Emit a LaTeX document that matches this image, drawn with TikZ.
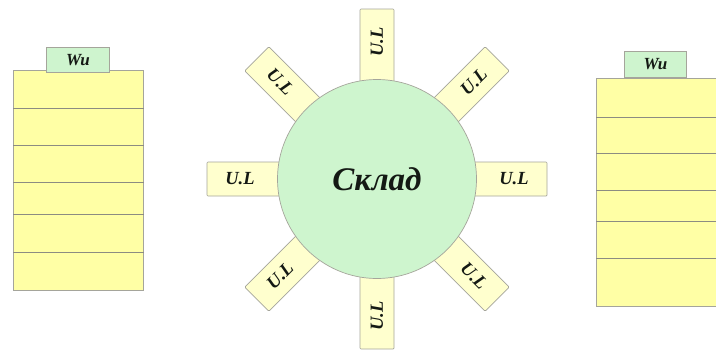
\documentclass[tikz,border=0pt]{standalone}
\usepackage{fontspec}
\setmainfont{Liberation Serif}
\usetikzlibrary{calc}
\definecolor{stackfill}{RGB}{255,255,165}
\definecolor{tabfill}{RGB}{206,244,206}
\definecolor{circfill}{RGB}{206,245,206}
\definecolor{ulfill}{RGB}{255,255,206}
\definecolor{edgegray}{RGB}{165,165,155}
\definecolor{linegray}{RGB}{140,140,130}
\definecolor{txt}{RGB}{20,25,20}
\begin{document}
\begin{tikzpicture}[x=1pt,y=-1pt,
  stackbox/.style={draw=edgegray, line width=0.8pt, fill=stackfill, inner sep=0pt, anchor=north west},
  tabbox/.style={draw=edgegray, line width=0.8pt, fill=tabfill, inner sep=0pt, anchor=north west,
    font=\fontsize{17}{18}\selectfont\bfseries\itshape, text=txt},
  shelf/.style={draw=linegray, line width=0.9pt},
  ulbox/.style={draw=edgegray, line width=0.7pt, fill=ulfill, inner sep=0pt,
    minimum width=170pt, minimum height=34pt, rounded corners=1pt},
  ultext/.style={font=\fontsize{18.5}{19}\selectfont\bfseries\itshape, text=txt, inner sep=0pt},
  hub/.style={circle, draw=edgegray, line width=0.7pt, fill=circfill, minimum size=199pt, inner sep=0pt,
    font=\fontsize{33}{36}\selectfont\bfseries\itshape, text=txt}]
\useasboundingbox (0,0) rectangle (716,351);
\clip (0,0) rectangle (716,351);
\fill[white] (0,0) rectangle (716,351);

% left stack
\node[stackbox, minimum width=130pt, minimum height=220pt] (ls) at (13,70) {};
\foreach \yy in {108,145,182,214,252}
  \draw[shelf] (ls.west |- 0,\yy) -- (ls.east |- 0,\yy);
\node[tabbox, minimum width=63pt, minimum height=25pt] (lt) at (46,47) {Wu};

% right stack
\node[stackbox, minimum width=130pt, minimum height=228pt] (rs) at (596,78) {};
\foreach \yy in {117,153,190,221,258}
  \draw[shelf] (rs.west |- 0,\yy) -- (rs.east |- 0,\yy);
\node[tabbox, minimum width=62pt, minimum height=26pt] (rt) at (624,51) {Wu};

% U.L boxes around the hub
\coordinate (cc) at (377,179);
\foreach \a/\r in {0/0,45/45,90/90,135/-45,180/0,225/45,270/90,315/-45}{
  \node[ulbox, rotate=\a] (ul\a) at ($(cc)+(\a:85pt)$) {};
  \node[ultext, rotate=\r] (ult\a) at ($(cc)+(\a:137pt)$) {U.L};
}
\node[hub] (hub) at (cc) {Склад};
\end{tikzpicture}
\end{document}
